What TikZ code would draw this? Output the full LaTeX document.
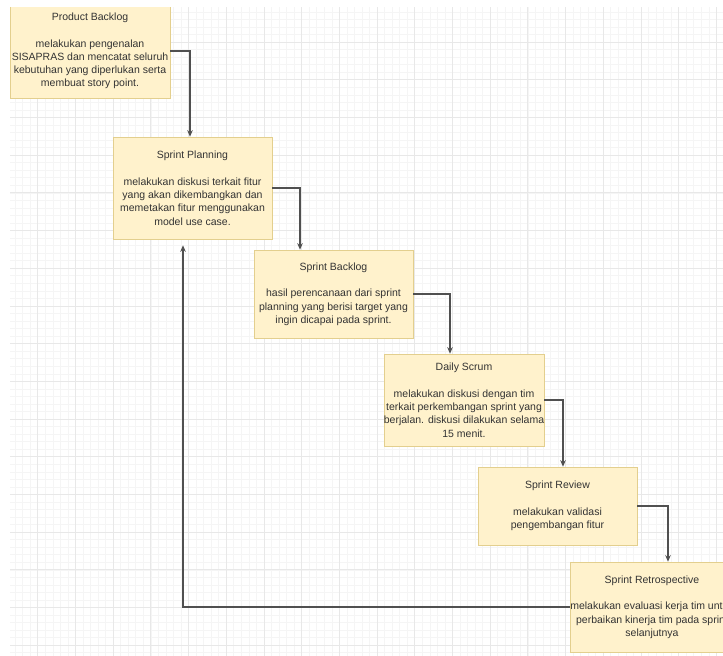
\documentclass[tikz,border=0pt]{standalone}
\usepackage{fontspec}
\setmainfont{Liberation Sans}
\usetikzlibrary{arrows.meta}
\definecolor{boxfill}{HTML}{FFF2CC}
\definecolor{boxline}{HTML}{E3CF8E}
\definecolor{gridminor}{HTML}{F5F5F5}
\definecolor{gridmajor}{HTML}{E8E8E8}
\definecolor{edgecol}{HTML}{505050}
\begin{document}
\begin{tikzpicture}[x=1pt,y=-1pt,
  stepbox/.style={draw=boxline,line width=0.6pt,fill=boxfill,inner sep=0pt,align=center,
    font=\fontsize{10.5}{13.3}\selectfont,text=black!80},
  flow/.style={draw=edgecol,line width=1.2pt,-{Stealth[length=6.5pt,width=5.5pt]}}]
\useasboundingbox (0,0) rectangle (723,656);
\fill[white] (0,0) rectangle (723,656);
\begin{scope}
\clip (10,7) rectangle (723,656);
% grid
\foreach \i in {0,...,96} {\draw[gridminor,line width=0.5pt] ({\i*7.54},7) -- ({\i*7.54},656);}
\foreach \i in {-1,...,87} {\draw[gridminor,line width=0.5pt] (10,{4.3+\i*7.54}) -- (723,{4.3+\i*7.54});}
\foreach \i in {0,...,19} {\draw[gridmajor,line width=0.7pt] ({\i*37.7},7) -- ({\i*37.7},656);}
\foreach \i in {0,...,17} {\draw[gridmajor,line width=0.7pt] (10,{4.3+\i*37.7}) -- (723,{4.3+\i*37.7});}
% boxes
\node[stepbox,minimum width=160pt,minimum height=94pt] (pb) at (90,51)
  {Product Backlog\\[13.3pt]melakukan pengenalan\\SISAPRAS dan mencatat seluruh\\kebutuhan yang diperlukan serta\\membuat story point.};
\node[stepbox,minimum width=159pt,minimum height=102pt] (sp) at (192.5,188)
  {Sprint Planning\\[13.3pt]melakukan diskusi terkait fitur\\yang akan dikembangkan dan\\memetakan fitur menggunakan\\model use case.};
\node[stepbox,minimum width=159pt,minimum height=88pt] (sb) at (333.5,294)
  {Sprint Backlog\\[13.3pt]hasil perencanaan dari sprint\\planning yang berisi target yang\\ingin dicapai pada sprint.};
\node[stepbox,minimum width=160pt,minimum height=92pt] (ds) at (464,400)
  {Daily Scrum\\[13.3pt]melakukan diskusi dengan tim\\terkait perkembangan sprint yang\\berjalan. diskusi dilakukan selama\\15 menit.};
\node[stepbox,minimum width=159pt,minimum height=78pt] (sr) at (557.5,506)
  {Sprint Review\\[13.3pt]melakukan validasi\\pengembangan fitur};
\node[stepbox,minimum width=160pt,minimum height=90pt] (rt) at (652,607)
  {Sprint Retrospective\\[13.3pt]melakukan evaluasi kerja tim untuk\\perbaikan kinerja tim pada sprint\\selanjutnya};
% connectors
\draw[flow] (pb.east) -| ([xshift=-2.5pt]sp.north);
\draw[flow] (sp.east) -| ([xshift=-33.5pt]sb.north);
\draw[flow] (sb.east) -| ([xshift=-14pt]ds.north);
\draw[flow] (ds.east) -| ([xshift=5.5pt]sr.north);
\draw[flow] (sr.east) -| ([xshift=16pt]rt.north);
\draw[flow] (rt.west) -| ([xshift=-9.5pt,yshift=-6pt]sp.south);
\end{scope}
\end{tikzpicture}
\end{document}
